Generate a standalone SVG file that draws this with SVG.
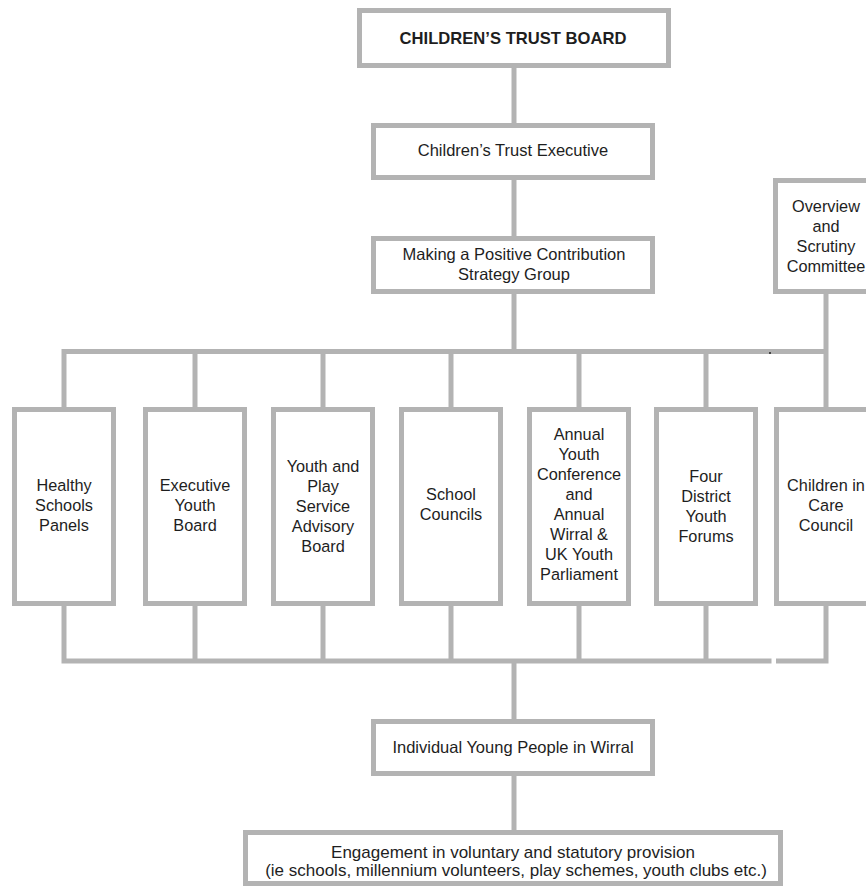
<svg xmlns="http://www.w3.org/2000/svg" width="866" height="886" viewBox="0 0 866 886">
<style>
.box{fill:#ffffff;stroke:#b3b3b3;stroke-width:5}
.ln{fill:none;stroke:#b3b3b3;stroke-width:5;stroke-linejoin:miter;stroke-linecap:butt}
text{font-family:"Liberation Sans",Arial,sans-serif;font-size:16.5px;fill:#1e1e1e;text-anchor:middle}
.b{font-weight:bold;font-size:16.6px}
.s{font-size:16.3px}
.e{font-size:17px}
</style>
<rect width="866" height="886" fill="#ffffff"/>
<g id="connectors">
<path class="ln" d="M514 68V123M514 180V236M514 294V351.5"/>
<path class="ln" d="M64 407V351.5H826"/>
<path class="ln" d="M826 294V407"/>
<path class="ln" d="M195 351.5V407M323 351.5V407M451 351.5V407M579 351.5V407M706 351.5V407"/>
<path class="ln" d="M64 606V661H771.5"/>
<path class="ln" d="M776 661H826V606"/>
<path class="ln" d="M195 606V661M323 606V661M451 606V661M579 606V661M706 606V661"/>
<path class="ln" d="M514 661V719M514 776V830"/>
<circle cx="770" cy="353" r="1" fill="#222"/>
</g>
<g id="board">
<rect class="box" x="359.5" y="10.5" width="309" height="55"/>
<text class="b" x="513" y="43.5">CHILDREN’S TRUST BOARD</text>
</g>
<g id="executive">
<rect class="box" x="373.5" y="125.5" width="279" height="52"/>
<text x="513" y="156">Children’s Trust Executive</text>
</g>
<g id="mpc">
<rect class="box" x="373.5" y="238.5" width="279" height="53"/>
<text x="514" y="260">Making a Positive Contribution<tspan x="514" y="280">Strategy Group</tspan></text>
</g>
<g id="overview">
<rect class="box" x="775.5" y="180.5" width="100" height="111"/>
<text class="s" x="826" y="212">Overview<tspan x="826" y="232">and</tspan><tspan x="826" y="252">Scrutiny</tspan><tspan x="826" y="272">Committee</tspan></text>
</g>
<g id="healthy">
<rect class="box" x="14.5" y="409.5" width="99" height="194"/>
<text class="s" x="64" y="491">Healthy<tspan x="64" y="511">Schools</tspan><tspan x="64" y="531">Panels</tspan></text>
</g>
<g id="execyouth">
<rect class="box" x="145.5" y="409.5" width="99" height="194"/>
<text class="s" x="195" y="491">Executive<tspan x="195" y="511">Youth</tspan><tspan x="195" y="531">Board</tspan></text>
</g>
<g id="youthplay">
<rect class="box" x="273.5" y="409.5" width="99" height="194"/>
<text class="s" x="323" y="472">Youth and<tspan x="323" y="492">Play</tspan><tspan x="323" y="512">Service</tspan><tspan x="323" y="532">Advisory</tspan><tspan x="323" y="552">Board</tspan></text>
</g>
<g id="schoolcouncils">
<rect class="box" x="401.5" y="409.5" width="99" height="194"/>
<text class="s" x="451" y="500">School<tspan x="451" y="520">Councils</tspan></text>
</g>
<g id="annual">
<rect class="box" x="529.5" y="409.5" width="99" height="194"/>
<text class="s" x="579" y="440">Annual<tspan x="579" y="460">Youth</tspan><tspan x="579" y="480">Conference</tspan><tspan x="579" y="500">and</tspan><tspan x="579" y="520">Annual</tspan><tspan x="579" y="540">Wirral &amp;</tspan><tspan x="579" y="560">UK Youth</tspan><tspan x="579" y="580">Parliament</tspan></text>
</g>
<g id="district">
<rect class="box" x="656.5" y="409.5" width="99" height="194"/>
<text class="s" x="706" y="482">Four<tspan x="706" y="502">District</tspan><tspan x="706" y="522">Youth</tspan><tspan x="706" y="542">Forums</tspan></text>
</g>
<g id="care">
<rect class="box" x="776.5" y="409.5" width="99" height="194"/>
<text class="s" x="826" y="491">Children in<tspan x="826" y="511">Care</tspan><tspan x="826" y="531">Council</tspan></text>
</g>
<g id="individual">
<rect class="box" x="373.5" y="721.5" width="279" height="52"/>
<text x="513" y="753">Individual Young People in Wirral</text>
</g>
<g id="engagement">
<rect class="box" x="245.5" y="832.5" width="535" height="51"/>
<text class="e" x="513" y="857.5">Engagement in voluntary and statutory provision<tspan x="516" y="875.5">(ie schools, millennium volunteers, play schemes, youth clubs etc.)</tspan></text>
</g>
</svg>
